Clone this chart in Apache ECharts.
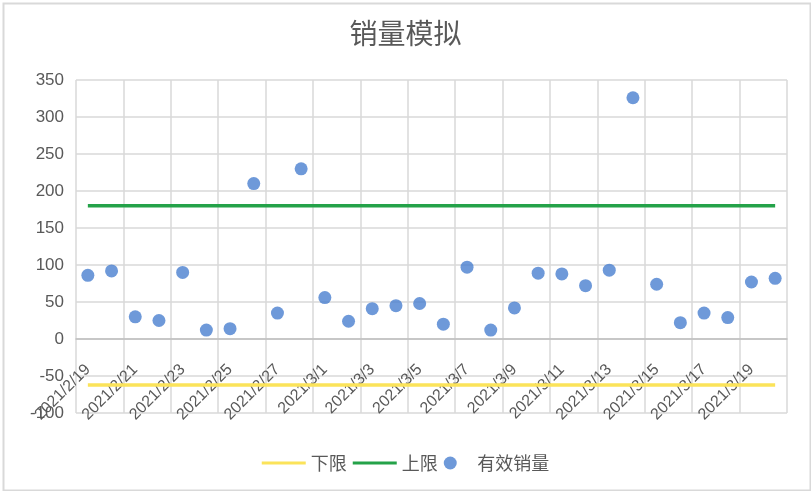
<!DOCTYPE html>
<html>
<head>
<meta charset="utf-8">
<script src="https://cdn.jsdelivr.net/npm/echarts@6/dist/echarts.min.js"></script>
<style>html,body{margin:0;padding:0;background:#fff;}#c{width:811px;height:491px;}</style>
</head>
<body>
<div id="c"></div>
<script>
const dates = ['2021/2/19','2021/2/20','2021/2/21','2021/2/22','2021/2/23','2021/2/24','2021/2/25','2021/2/26','2021/2/27','2021/2/28',
  '2021/3/1','2021/3/2','2021/3/3','2021/3/4','2021/3/5','2021/3/6','2021/3/7','2021/3/8','2021/3/9','2021/3/10',
  '2021/3/11','2021/3/12','2021/3/13','2021/3/14','2021/3/15','2021/3/16','2021/3/17','2021/3/18','2021/3/19','2021/3/20'];
const sales = [86, 92, 30, 25, 90, 12, 14, 210, 35, 230,
  56, 24, 41, 45, 48, 20, 97, 12, 42, 89,
  88, 72, 93, 326, 74, 22, 35, 29, 77, 82];
const lowerLimit = -62;
const upperLimit = 180;
const lowerData = dates.map(() => lowerLimit);
const upperData = dates.map(() => upperLimit);

const chart = echarts.init(document.getElementById('c'));
const txt = '#595959';
const font = "'Noto Sans CJK SC','Liberation Sans',sans-serif";
const lineIcon = 'path://M0,0 M44,13 M0,5 L44,5 L44,8 L0,8 Z';
const gridTop = 80, gridBottom = 78, yMin = -100, yMax = 350;
const plotH = 491 - gridTop - gridBottom;
const zeroOffset = -plotH * (0 - yMin) / (yMax - yMin);
chart.setOption({
  animation: false,
  textStyle: { fontFamily: font },
  title: {
    text: '销量模拟', left: 'center', top: 14,
    textStyle: { fontSize: 28, fontWeight: 'normal', color: txt, fontFamily: font }
  },
  graphic: [{
    type: 'rect', left: 1, top: 1,
    shape: { width: 807, height: 487 },
    style: { fill: 'none', stroke: '#d9d9d9', lineWidth: 2 }
  }],
  legend: {
    top: 449, left: 'center',
    itemWidth: 44, itemHeight: 13, itemGap: 6,
    textStyle: { fontSize: 18, color: txt, fontFamily: font },
    data: [
      { name: '下限', icon: lineIcon },
      { name: '上限', icon: lineIcon },
      { name: '有效销量', icon: 'circle' }
    ]
  },
  grid: { left: 76, right: 24, top: gridTop, bottom: gridBottom },
  xAxis: {
    type: 'category', data: dates, boundaryGap: true,
    offset: zeroOffset,
    axisLine: { onZero: false, lineStyle: { color: '#bfbfbf', width: 1.5 } },
    axisTick: { show: false },
    axisLabel: { interval: 1, rotate: 45, margin: 28, fontSize: 16, color: txt, fontFamily: "'Liberation Sans',sans-serif" },
    splitLine: { show: true, interval: 1, lineStyle: { color: '#d9d9d9', width: 1.5 } }
  },
  yAxis: {
    type: 'value', min: yMin, max: yMax, interval: 50,
    axisLine: { show: false }, axisTick: { show: false },
    axisLabel: { fontSize: 17, color: txt, margin: 12, fontFamily: "'Liberation Sans',sans-serif" },
    splitLine: { lineStyle: { color: '#d9d9d9', width: 1.5 } }
  },
  series: [
    { name: '下限', type: 'line', data: lowerData, symbol: 'none',
      lineStyle: { color: '#fbe35a', width: 3.5 }, itemStyle: { color: '#fbe35a' } },
    { name: '上限', type: 'line', data: upperData, symbol: 'none',
      lineStyle: { color: '#24a249', width: 3.5 }, itemStyle: { color: '#24a249' } },
    { name: '有效销量', type: 'scatter', data: sales, symbolSize: 13,
      itemStyle: { color: '#4a7fd0' } }
  ]
});
</script>
</body>
</html>
